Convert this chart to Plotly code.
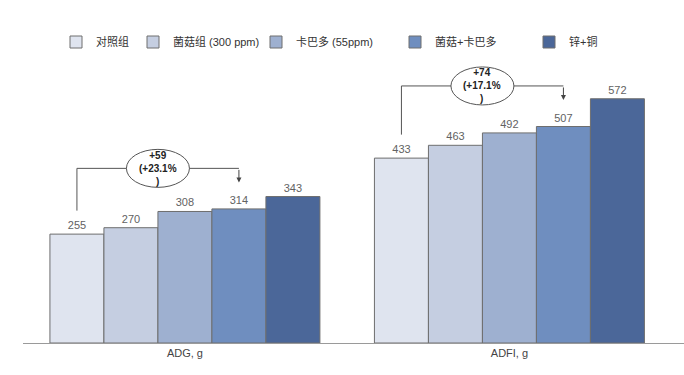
import plotly.graph_objects as go

# ---- data ----
categories = ["ADG, g", "ADFI, g"]
series_names = ["对照组", "菌菇组 (300 ppm)", "卡巴多 (55ppm)", "菌菇+卡巴多", "锌+铜"]
adg_values = [255, 270, 308, 314, 343]
adfi_values = [433, 463, 492, 507, 572]
series_colors = ["#dfe4ef", "#c5cee1", "#9eb0d0", "#6f8ebf", "#4b6799"]
legend_left_px = [70, 147, 270, 409, 543]

W, H = 684, 375
ML, MR, MT, MB = 23, 0, 20, 32
plot_w = W - ML - MR
plot_h = H - MT - MB
BARGAP = 0.168
X_RANGE = [-0.499, -0.499 + plot_w / 324.5]
Y_RANGE = [0, plot_h / 0.427]

FONT = "Arial, 'Liberation Sans', 'Noto Sans CJK SC', sans-serif"

fig = go.Figure()
group_values = [adg_values, adfi_values]
for i, name in enumerate(series_names):
    vals = [g[i] for g in group_values]
    fig.add_trace(go.Bar(
        x=categories, y=vals, name=name,
        marker=dict(color=series_colors[i], line=dict(color="#6e6e6e", width=1)),
        text=[str(v) for v in vals], textposition="outside",
        textfont=dict(color="#626262", size=11, family=FONT),
        cliponaxis=False,
        legend="legend" if i == 0 else f"legend{i+1}",
    ))

# bracket annotations
n = len(series_names)
gw = 1 - BARGAP
bw = gw / n
def center(k, i):
    return k - gw / 2 + (i + 0.5) * bw

shapes = []
annotations = []
for k, vals in enumerate(group_values):
    x1 = center(k, 0)
    x4 = center(k, 3)
    y_start = vals[0] + 55
    y_br = vals[3] + 95
    y_tip = vals[3] + 62
    diff = vals[3] - vals[0]
    pct = diff / vals[0] * 100
    xm = (x1 + x4) / 2
    shapes.append(dict(type="line", xref="x", yref="y", x0=x1, x1=x1, y0=y_start, y1=y_br,
                       line=dict(color="#555555", width=1)))
    shapes.append(dict(type="line", xref="x", yref="y", x0=x1, x1=x4, y0=y_br, y1=y_br,
                       line=dict(color="#555555", width=1)))
    shapes.append(dict(type="circle", xref="x", yref="y", xsizemode="pixel", ysizemode="pixel",
                       xanchor=xm, yanchor=y_br, x0=-31.5, x1=31.5, y0=-19, y1=19,
                       fillcolor="white", line=dict(color="#555555", width=1)))
    annotations.append(dict(x=x4, y=y_tip, ax=x4, ay=y_br, axref="x", ayref="y",
                            xref="x", yref="y", text="", showarrow=True,
                            arrowhead=2, arrowsize=1, arrowwidth=1, arrowcolor="#444444"))
    annotations.append(dict(x=xm, y=y_br, xref="x", yref="y", showarrow=False,
                            text=f"<b>+{diff}<br>(+{pct:.1f}%<br>)</b>",
                            font=dict(size=10, color="#222222", family=FONT)))

layout_legends = {}
for i, px in enumerate(legend_left_px):
    key = "legend" if i == 0 else f"legend{i+1}"
    layout_legends[key] = dict(
        x=(px - 14 - ML) / plot_w, y=(H - MB - 42) / plot_h,
        xanchor="left", yanchor="middle", orientation="h",
        font=dict(size=11, color="#333333", family=FONT),
        bgcolor="rgba(0,0,0,0)",
    )

fig.update_layout(
    width=W, height=H,
    margin=dict(l=ML, r=MR, t=MT, b=MB),
    paper_bgcolor="white", plot_bgcolor="white",
    barmode="group", bargap=BARGAP, bargroupgap=0,
    font=dict(family=FONT, size=11, color="#444444"),
    xaxis=dict(range=X_RANGE, showline=True, linecolor="#9a9a9a", linewidth=1,
               ticks="", showgrid=False, tickfont=dict(size=11, color="#444444")),
    yaxis=dict(range=Y_RANGE, visible=False, showgrid=False),
    shapes=shapes, annotations=annotations,
    showlegend=True,
    **layout_legends,
)

fig.write_html("out.html", config={"displayModeBar": False},
               post_script="document.body.style.margin='0';document.body.style.overflow='hidden';")
